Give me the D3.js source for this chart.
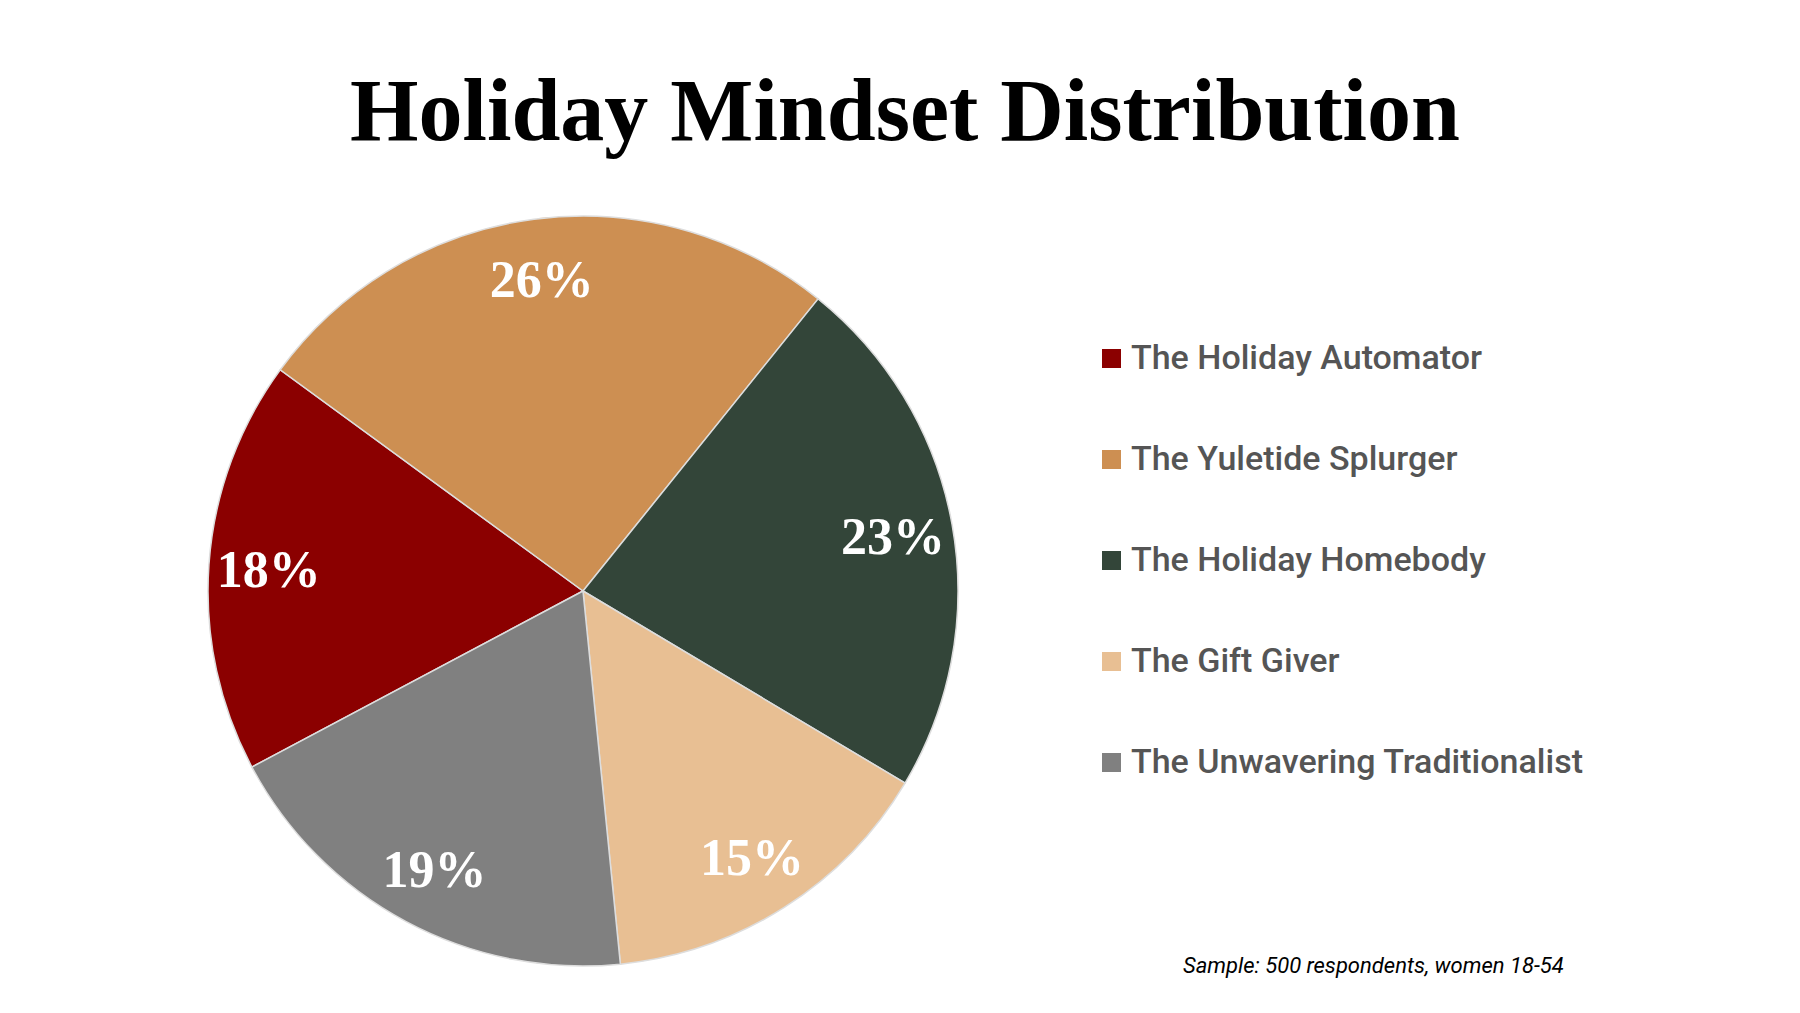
<!DOCTYPE html>
<html>
<head>
<meta charset="utf-8">
<script src="https://cdn.jsdelivr.net/npm/d3@7"></script>
<style>
  body { margin: 0; background: #fff; }
</style>
</head>
<body>
<svg id="chart" width="1800" height="1013"></svg>
<script>
// chart data
const categories = ["The Holiday Automator", "The Yuletide Splurger", "The Holiday Homebody", "The Gift Giver", "The Unwavering Traditionalist"];
const shares = [18, 26, 23, 15, 19];
const colors = ["#8B0000", "#CD8F52", "#334539", "#E8BF93", "#808080"];

const svg = d3.select("#chart");

// title
svg.append("text")
  .attr("x", 905).attr("y", 140)
  .attr("text-anchor", "middle")
  .style("font-family", "'Liberation Serif', 'DejaVu Serif', serif")
  .style("font-weight", "bold")
  .style("font-size", "88px")
  .text("Holiday Mindset Distribution");

// pie
const cx = 583, cy = 591, r = 375;
const pie = d3.pie().sort(null).value((d) => d)
  .startAngle(-118 * Math.PI / 180).endAngle(242 * Math.PI / 180);
const arcs = pie(shares);
const arc = d3.arc().innerRadius(0).outerRadius(r);
const labelArc = d3.arc().innerRadius(r * 0.84).outerRadius(r * 0.84);

const g = svg.append("g").attr("transform", `translate(${cx},${cy})`);
g.selectAll("path").data(arcs).join("path")
  .attr("d", arc)
  .attr("fill", (d, i) => colors[i])
  .attr("stroke", "#ddd")
  .attr("stroke-width", 1.5);

g.selectAll("text").data(arcs).join("text")
  .attr("transform", (d) => `translate(${labelArc.centroid(d)})`)
  .attr("text-anchor", "middle")
  .attr("dy", "0.35em")
  .attr("fill", "#fff")
  .style("font-family", "'Liberation Serif', 'DejaVu Serif', serif")
  .style("font-weight", "bold")
  .style("font-size", "52px")
  .text((d) => d.data + "%");

// legend
const legend = svg.append("g");
const ly = d3.scalePoint().domain(categories).range([369, 773]);
legend.selectAll("rect").data(categories).join("rect")
  .attr("x", 1102).attr("y", (d) => ly(d) - 20)
  .attr("width", 19).attr("height", 19)
  .attr("fill", (d, i) => colors[i]);
legend.selectAll("text").data(categories).join("text")
  .attr("x", 1131).attr("y", (d) => ly(d))
  .attr("fill", "#555")
  .style("font-family", "Roboto, sans-serif")
  .style("font-weight", "500")
  .style("font-size", "34px")
  .text((d) => d);

// footnote
svg.append("text")
  .attr("x", 1183).attr("y", 973)
  .style("font-family", "Roboto, sans-serif")
  .style("font-style", "italic")
  .style("font-size", "22px")
  .text("Sample: 500 respondents, women 18-54");
</script>
</body>
</html>
